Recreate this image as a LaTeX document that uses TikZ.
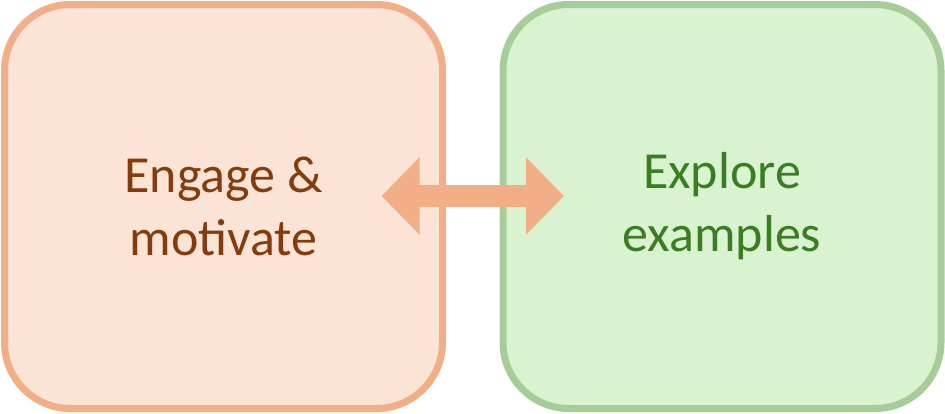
\documentclass[tikz,border=0pt]{standalone}
\usepackage{fontspec}
\setmainfont{Carlito}
\usetikzlibrary{arrows.meta}
\definecolor{engfill}{HTML}{FBE3D6}
\definecolor{engline}{HTML}{F2AE87}
\definecolor{engtext}{HTML}{843C0C}
\definecolor{expfill}{HTML}{D9F2D0}
\definecolor{expline}{HTML}{A6CC99}
\definecolor{exptext}{HTML}{3B7D23}

\begin{document}
\begin{tikzpicture}[x=1pt, y=-1pt,
	box/.style = {draw, line width=7pt, rounded corners=66pt, minimum width=438pt, minimum height=404pt, align=center, font=\fontsize{52}{63}\selectfont},
	link/.style = {draw=engline, line width=22pt, {Triangle[length=38pt, width=75pt]}-{Triangle[length=38pt, width=75pt]}}]
	\useasboundingbox (0,0) rectangle (945,413);
	\node[box, fill=engfill, draw=engline, text=engtext] (engage) at (223.5,206.5) {Engage \&\\motivate};
	\node[box, fill=expfill, draw=expline, text=exptext] (explore) at (722,206.5) {Explore\\examples};
	\coordinate (l) at ([xshift=-64.5pt, yshift=10.5pt]engage.east);
	\coordinate (r) at ([xshift=64.5pt, yshift=10.5pt]explore.west);
	\draw[link] (l) -- (r);
\end{tikzpicture}
\end{document}
